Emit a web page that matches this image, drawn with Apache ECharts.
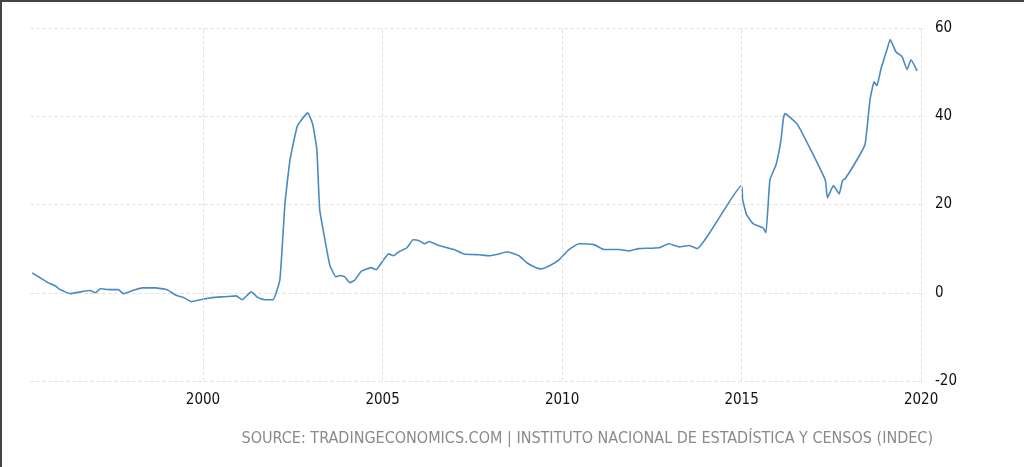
<!DOCTYPE html>
<html><head><meta charset="utf-8">
<script src="https://cdn.jsdelivr.net/npm/echarts@6/dist/echarts.min.js"></script>
<style>
html,body{margin:0;padding:0;background:#fff;}
#c{width:1024px;height:467px;box-sizing:border-box;border-top:2px solid #444;border-left:2px solid #444;}
</style></head><body>
<div id="c"></div>
<script>
const years = [1995.24,1995.46,1995.68,1995.88,1996.02,1996.30,1996.58,1996.86,1997.00,1997.14,1997.42,1997.64,1997.78,1998.11,1998.31,1998.67,1999.00,1999.23,1999.46,1999.68,1999.92,2000.25,2000.61,2000.92,2001.09,2001.34,2001.53,2001.73,2001.95,2002.14,2002.28,2002.42,2002.62,2002.79,2002.92,2003.06,2003.17,2003.25,2003.42,2003.53,2003.70,2003.81,2003.95,2004.09,2004.23,2004.40,2004.68,2004.82,2005.03,2005.17,2005.31,2005.46,2005.68,2005.85,2006.02,2006.16,2006.30,2006.57,2006.99,2007.27,2007.69,2007.97,2008.24,2008.47,2008.80,2009.02,2009.22,2009.41,2009.69,2009.92,2010.19,2010.47,2010.89,2011.17,2011.59,2011.87,2012.14,2012.70,2012.98,2013.26,2013.54,2013.76,2015.00,2015.03,2015.14,2015.33,2015.60,2015.68,2015.79,2015.96,2016.10,2016.16,2016.21,2016.57,2017.33,2017.39,2017.56,2017.72,2017.81,2017.89,2018.22,2018.44,2018.58,2018.69,2018.77,2018.88,2019.05,2019.14,2019.30,2019.47,2019.61,2019.72,2019.89,2020.06];
const values = [4.5,3.4,2.3,1.6,0.7,-0.2,0.2,0.5,0,0.9,0.7,0.7,-0.2,0.7,1.1,1.1,0.7,-0.5,-1.1,-2,-1.6,-1.1,-0.9,-0.7,-1.6,0.2,-1.1,-1.6,-1.6,2.9,20,30,37.6,39.7,40.8,38,32.4,18.8,10.9,6.3,3.6,3.9,3.6,2.3,2.9,4.8,5.7,5.2,7.5,8.8,8.4,9.3,10.2,12,11.8,11.1,11.6,10.7,9.8,8.8,8.6,8.4,8.8,9.3,8.4,6.8,5.9,5.4,6.3,7.5,9.8,11.1,10.9,9.8,9.8,9.5,10,10.2,11.1,10.4,10.7,10,24.3,21.1,17.7,15.6,14.7,13.6,25.6,29,34.7,39.2,40.6,38,25.6,21.5,24.3,22.4,25.4,25.9,30.2,33.6,43.8,47.8,46.9,50.6,55.1,57.4,54.6,53.5,50.6,52.8,50.3];
const xTicks = [2000,2005,2010,2015,2020];
const yTicks = [-20,0,20,40,60];
const source = 'SOURCE: TRADINGECONOMICS.COM | INSTITUTO NACIONAL DE ESTADÍSTICA Y CENSOS (INDEC)';

const chart = echarts.init(document.getElementById('c'));
const font = '"DejaVu Sans Condensed","DejaVu Sans",sans-serif';
chart.setOption({
  animation:false,
  grid:{left:28,right:99,top:26,bottom:86},
  title:{text:source,right:86,bottom:15,textStyle:{fontFamily:font,fontSize:16,fontWeight:'normal',color:'#8a8a8a'}},
  xAxis:{type:'value',min:1995.18,max:2020.11,
    axisLine:{show:false},axisTick:{show:false},splitLine:{show:false},
    axisLabel:{customValues:xTicks,formatter:v=>String(Math.round(v)),color:'#111',fontFamily:font,fontSize:15,margin:12}},
  yAxis:{type:'value',position:'right',min:-20,max:60,interval:20,
    axisLine:{show:false},axisTick:{show:false},
    splitLine:{lineStyle:{color:'#e4e4e4',type:'dashed'}},
    axisLabel:{color:'#111',fontFamily:font,fontSize:15,margin:10}},
  series:[{type:'line',data:years.map((y,i)=>[y,values[i]]),showSymbol:false,smooth:0.12,
    lineStyle:{color:'#4a8ac4',width:1.6},
    markLine:{silent:true,symbol:'none',label:{show:false},
      lineStyle:{color:'#e4e4e4',type:'dashed',width:1},
      data:xTicks.map(t=>({xAxis:t}))}}]
});
</script></body></html>
